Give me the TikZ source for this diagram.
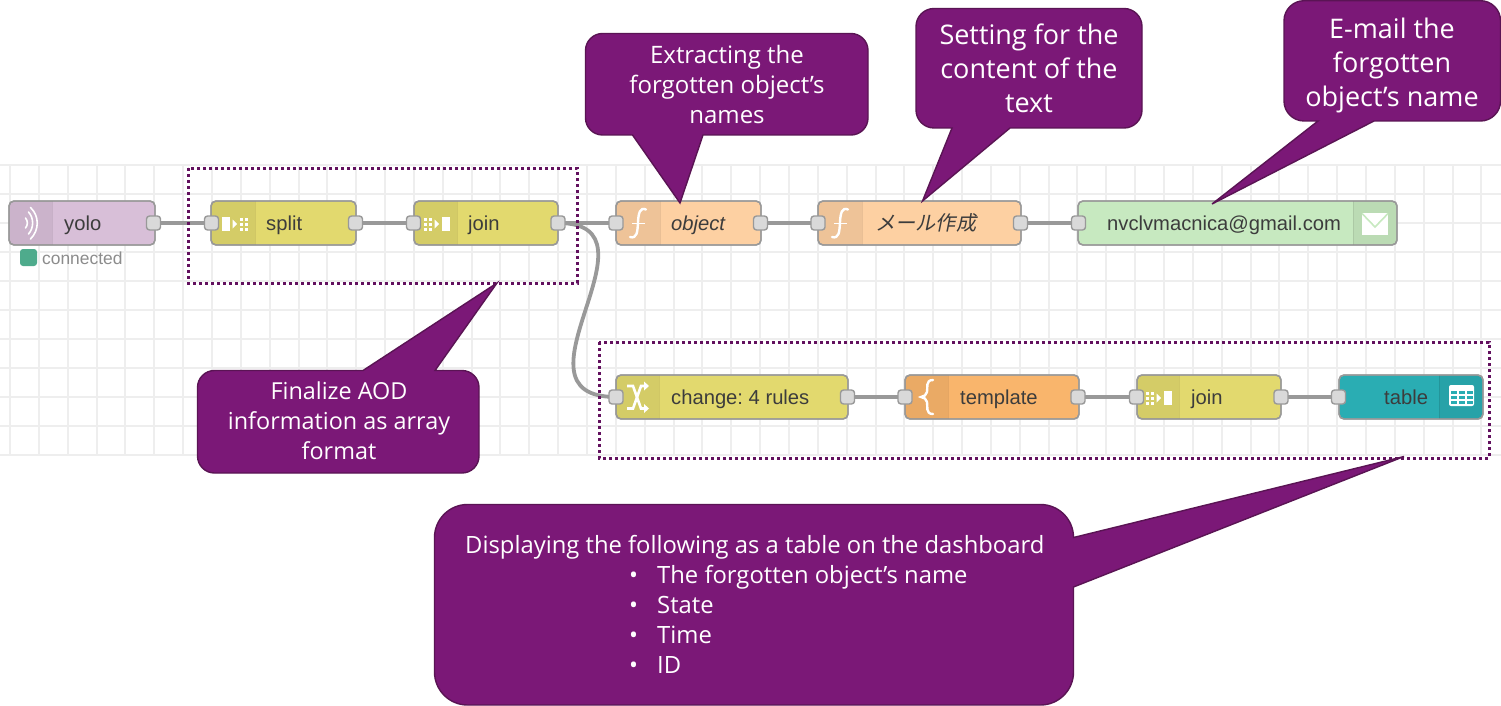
\documentclass[tikz,border=0pt]{standalone}
\usepackage{fontspec}
\setmainfont{Liberation Sans}
\newfontfamily\callfont{Open Sans}
\newfontfamily\cjkfont[FakeSlant=0.2]{Noto Sans CJK JP}
\pgfdeclarelayer{under}
\pgfsetlayers{under,main}
\definecolor{gridc}{HTML}{EEEEEE}
\definecolor{wirec}{HTML}{999999}
\definecolor{portc}{HTML}{D9D9D9}
\definecolor{txtc}{HTML}{3C3C3C}
\definecolor{purp}{HTML}{7B1877}
\definecolor{purpd}{HTML}{5A1454}
\definecolor{dotc}{HTML}{62105E}
\definecolor{cyolo}{HTML}{D8BFD8}
\definecolor{cyel}{HTML}{E2D96E}
\definecolor{cfun}{HTML}{FDD0A2}
\definecolor{cmail}{HTML}{C7E9C0}
\definecolor{ctmpl}{HTML}{F9B56C}
\definecolor{ctab}{HTML}{2AADB3}
\definecolor{cstat}{RGB}{78,171,140}
\tikzset{
  bodybox/.style={draw=wirec,line width=1.4pt,rounded corners=5pt,inner sep=0pt,minimum height=44pt},
  portbox/.style={draw=wirec,fill=portc,line width=1.4pt,rounded corners=3pt,inner sep=0pt,minimum width=14pt,minimum height=14pt},
  lbl/.style={anchor=base west,inner sep=0pt,text=txtc,font=\frenchspacing\fontsize{20.2}{24}\selectfont},
  wire/.style={draw=wirec,line width=3.8pt},
  gridline/.style={draw=gridc,line width=2pt},
  dotbox/.style={draw=dotc,line width=3pt,dash pattern=on 3pt off 3pt},
  callout/.style={fill=purp,draw=purpd,line width=1.4pt},
  calltxt/.style={text=white,align=center,inner sep=0pt},
  iconw/.style={draw=white,line width=2.4pt,line cap=round},
}
% name, x1, x2, yc, colour, icon x1, icon x2, divider x
\newcommand{\rednode}[8]{%
  \pgfmathsetmacro{\rx}{(#2+#3)/2}\pgfmathsetmacro{\rw}{#3-#2}%
  \node[bodybox,fill=#5,minimum width=\rw pt] (#1) at (\rx,#4) {};
  \begin{scope}
    \clip[rounded corners=5pt] (#2,#4-22) rectangle (#3,#4+22);
    \fill[black,opacity=.06] (#6,#4-22) rectangle (#7,#4+22);
    \draw[black,opacity=.08,line width=1pt] (#8,#4-22) -- (#8,#4+22);
  \end{scope}
  \draw[draw=wirec,line width=1.4pt,rounded corners=5pt] (#2,#4-22) rectangle (#3,#4+22);
}
\newcommand{\funicon}[1]{%
  \begin{scope}[shift={(#1,0)}]
  \draw[iconw] (17,209.5) .. controls (11,207) and (9.5,213) .. (9,222) .. controls (8.5,232) and (8,239) .. (1,237);
  \draw[white,line width=1.6pt] (3,223.5) -- (16,223.5);
  \end{scope}}
\newcommand{\spliticon}[2]{%
  \begin{scope}[shift={(#1,#2)}]
  \fill[white] (0,-7) rectangle (8,7);
  \fill[white] (10.5,-4.5) -- (15,0) -- (10.5,4.5) -- cycle;
  \foreach \yy in {-6,-1,4}{\fill[white] (18,\yy) rectangle (21,\yy+3);\fill[white] (23,\yy) rectangle (26,\yy+3);}
  \end{scope}}
\newcommand{\joinicon}[2]{%
  \begin{scope}[shift={(#1,#2)}]
  \foreach \yy in {-6,-1,4}{\fill[white] (0,\yy) rectangle (3,\yy+3);\fill[white] (5,\yy) rectangle (8,\yy+3);}
  \fill[white] (10.5,-4.5) -- (15,0) -- (10.5,4.5) -- cycle;
  \fill[white] (18,-7) rectangle (26,7);
  \end{scope}}
% rounded box outline, from the bottom edge round by the right, top and left, back to the bottom edge: x1,y1,x2,y2,r
\newcommand{\boxround}[5]{%
  -- ({#3-#5},#4) .. controls ({#3-.45*#5},#4) and (#3,{#4-.45*#5}) .. (#3,{#4-#5})
  -- (#3,{#2+#5}) .. controls (#3,{#2+.45*#5}) and ({#3-.45*#5},#2) .. ({#3-#5},#2)
  -- ({#1+#5},#2) .. controls ({#1+.45*#5},#2) and (#1,{#2+.45*#5}) .. (#1,{#2+#5})
  -- (#1,{#4-#5}) .. controls (#1,{#4-.45*#5}) and ({#1+.45*#5},#4) .. ({#1+#5},#4)}
\begin{document}
\begin{tikzpicture}[x=1pt,y=-1pt]
\useasboundingbox (0,0) rectangle (1501,706);
\begin{pgfonlayer}{under}
  \fill[white] (0,0) rectangle (1501,706);
  \foreach \k in {0,...,51}{\draw[gridline] ({10+28.85*\k},165) -- ({10+28.85*\k},455);}
  \foreach \k in {0,...,10}{\draw[gridline] (0,{165+29*\k}) -- (1501,{165+29*\k});}
\end{pgfonlayer}

% flow nodes, top row
\rednode{yolo}{9}{155}{223}{cyolo}{9}{52}{52}
\rednode{split}{211}{356}{223}{cyel}{211}{255}{255}
\rednode{joinA}{414}{558}{223}{cyel}{414}{457}{457}
\rednode{object}{616}{761}{223}{cfun}{616}{660}{660}
\rednode{mail}{818}{1021}{223}{cfun}{818}{862}{862}
\rednode{email}{1078}{1397}{223}{cmail}{1353}{1397}{1353}
% flow nodes, bottom row
\rednode{change}{616}{848}{397}{cyel}{616}{659}{659}
\rednode{template}{905}{1079}{397}{ctmpl}{905}{948}{948}
\rednode{joinB}{1137}{1281}{397}{cyel}{1137}{1179}{1179}
\rednode{table}{1339}{1483}{397}{ctab}{1439}{1483}{1439}

% icons
\draw[white,line width=1.6pt,line cap=round] (30.5,207.5) .. controls (39.5,216) and (39.5,230) .. (30.5,239);
\draw[white,line width=1.6pt,line cap=round] (28.5,212) .. controls (34,218) and (34,228) .. (28.5,234);
\draw[white,line width=1.6pt,line cap=round] (25.5,218) .. controls (28,221) and (28,225) .. (25.5,228);
\spliticon{222}{224}
\joinicon{424}{224}
\joinicon{1146}{398}
\funicon{629}
\funicon{831}
% change icon
\draw[white,line width=2.6pt] (627,386) -- (633,386) -- (641,408.5) -- (645,408.5);
\draw[white,line width=2.6pt] (627,408.5) -- (633,408.5) -- (641,386) -- (645,386);
\fill[white] (644,381.5) -- (649,386) -- (644,390.5) -- cycle;
\fill[white] (644,404) -- (649,408.5) -- (644,413) -- cycle;
% template icon
\draw[iconw] (933,380) .. controls (925,380) and (928,388) .. (927,392) .. controls (926.5,395) and (924,396.5) .. (921,397) .. controls (924,397.5) and (926.5,399) .. (927,402) .. controls (928,406) and (925,414) .. (933,414);
% envelope
\fill[white] (1362,213) rectangle (1388,235);
\draw[cmail,line width=1.6pt] (1362,213.5) -- (1375,227) -- (1388,213.5);
% table icon
\fill[white,rounded corners=2pt] (1449,385) rectangle (1474,406);
\foreach \cx in {1451,1459,1467}{\foreach \cy in {391,396,401}{\fill[ctab] (\cx,\cy) rectangle (\cx+6,\cy+3);}}

% ports
\node[portbox] (yoloO) at (153.5,223) {};
\node[portbox] (splitI) at (211.5,223) {};
\node[portbox] (splitO) at (355.5,223) {};
\node[portbox] (joinAI) at (413.5,223) {};
\node[portbox] (joinAO) at (558,223) {};
\node[portbox] (objectI) at (616,223) {};
\node[portbox] (objectO) at (760.5,223) {};
\node[portbox] (mailI) at (818,223) {};
\node[portbox] (mailO) at (1020.5,223) {};
\node[portbox] (emailI) at (1078.5,223) {};
\node[portbox] (changeI) at (616,397) {};
\node[portbox] (changeO) at (847.5,397) {};
\node[portbox] (templateI) at (905,397) {};
\node[portbox] (templateO) at (1078,397) {};
\node[portbox] (joinBI) at (1136.5,397) {};
\node[portbox] (joinBO) at (1281,397) {};
\node[portbox] (tableI) at (1338.5,397) {};

% wires
\begin{pgfonlayer}{under}
  \draw[wire] (yoloO.center) -- (splitI.center);
  \draw[wire] (splitO.center) -- (joinAI.center);
  \draw[wire] (joinAO.center) -- (objectI.center);
  \draw[wire] (objectO.center) -- (mailI.center);
  \draw[wire] (mailO.center) -- (emailI.center);
  \draw[wire] (joinAO.center) .. controls (670,223) and (500,397) .. (changeI.center);
  \draw[wire] (changeO.center) -- (templateI.center);
  \draw[wire] (templateO.center) -- (joinBI.center);
  \draw[wire] (joinBO.center) -- (tableI.center);
\end{pgfonlayer}

% labels
\node[lbl] (tyolo) at (64,230) {yolo};
\node[lbl] (tsplit) at (266,230) {split};
\node[lbl] (tjoinA) at (468,230) {join};
\node[lbl] (tobject) at (671,230) {\itshape object};
\node[lbl] (tmail) at (875,230) {\cjkfont メール作成};
\node[lbl] (temail) at (1107,230) {nvclvmacnica@gmail.com};
\node[lbl] (tchange) at (671,404) {change: 4 rules};
\node[lbl] (ttemplate) at (960,404) {template};
\node[lbl] (tjoinB) at (1191,404) {join};
\node[lbl] (ttable) at (1384,404) {table};
\fill[rounded corners=3pt,fill=cstat] (20,249) rectangle (37,266);
\node[lbl,text=black!45,font=\fontsize{17.4}{20}\selectfont] (tstatus) at (42,264) {connected};

% dotted groups
\draw[dotbox] (188,168) rectangle (577,283);
\draw[dotbox] (599,342) rectangle (1489,458);

% callouts
\draw[callout] (632.5,135) -- (680,203) -- (703,135) \boxround{585.5}{33.5}{868}{135}{17} -- cycle;
\node[calltxt,font=\callfont\fontsize{24}{30}\selectfont] (c1) at (727,85) {Extracting the\\forgotten object’s\\names};

\draw[callout] (952,128) -- (922.5,201) -- (1010,128) \boxround{916}{8.5}{1142}{128}{18} -- cycle;
\node[calltxt,font=\callfont\fontsize{27}{34}\selectfont] (c2) at (1029,68) {Setting for the\\content of the\\text};

\draw[callout] (1318,121) -- (1212,204) -- (1374,121) \boxround{1284}{0.7}{1500.5}{121}{20} -- cycle;
\node[calltxt,font=\callfont\fontsize{27}{34}\selectfont] (c3) at (1392,65) {E-mail the\\forgotten\\object’s name};

\draw[callout] (363,370.5) -- (497,283) -- (435,370.5) -- (462,370.5)
  .. controls (471.4,370.5) and (479,378.1) .. (479,387.5) -- (479,456)
  .. controls (479,465.4) and (471.4,473) .. (462,473) -- (214.5,473)
  .. controls (205.1,473) and (197.5,465.4) .. (197.5,456) -- (197.5,387.5)
  .. controls (197.5,378.1) and (205.1,370.5) .. (214.5,370.5) -- cycle;
\node[calltxt,font=\callfont\fontsize{23.4}{30}\selectfont] (c4) at (339,421) {Finalize AOD\\information as array\\format};

\draw[callout] (1073.5,537.5) -- (1404,456.5) -- (1073.5,587) -- (1073.5,672)
  .. controls (1073.5,690.2) and (1058.7,705) .. (1040.5,705) -- (467.5,705)
  .. controls (449.3,705) and (434.5,690.2) .. (434.5,672) -- (434.5,537.5)
  .. controls (434.5,519.3) and (449.3,504.5) .. (467.5,504.5) -- (1040.5,504.5)
  .. controls (1058.7,504.5) and (1073.5,519.3) .. (1073.5,537.5) -- cycle;
\begin{scope}[every node/.style={text=white,inner sep=0pt,anchor=base west,font=\callfont\fontsize{23.8}{30}\selectfont}]
\node (c5) at (465,553) {Displaying the following as a table on the dashboard};
\node (b1) at (629,583) {•};
\node (l1) at (657,583) {The forgotten object’s name};
\node (b2) at (629,613) {•};
\node (l2) at (657,613) {State};
\node (b3) at (629,643) {•};
\node (l3) at (657,643) {Time};
\node (b4) at (629,673) {•};
\node (l4) at (657,673) {ID};
\end{scope}
\end{tikzpicture}
\end{document}
